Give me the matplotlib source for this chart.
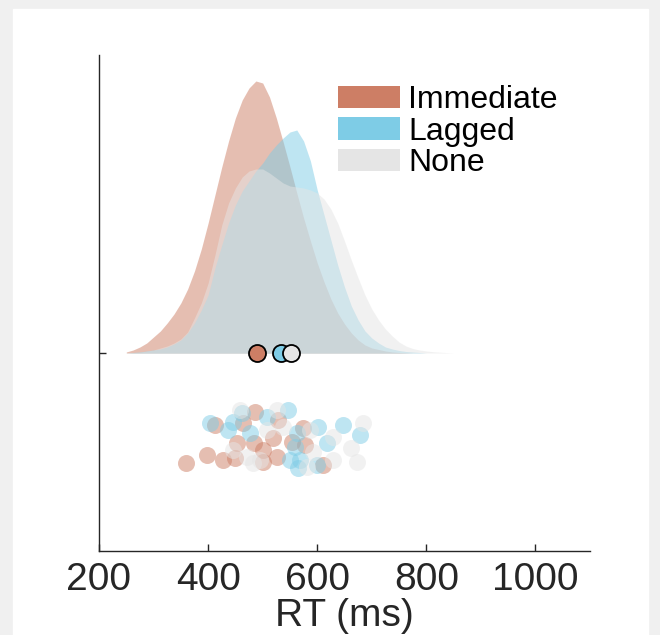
import matplotlib.pyplot as plt
from matplotlib.patches import Rectangle, Patch

# groups and colours
groups = ['Immediate', 'Lagged', 'None']
colors = ['#cd7e65', '#7ecce6', '#e5e5e5']

# density curves (arbitrary units) on a shared RT grid
rt_grid = [250, 262.5, 275, 287.5, 300, 312.5, 325, 337.5, 350, 362.5, 375, 387.5,
           400, 412.5, 425, 437.5, 450, 462.5, 475, 487.5, 500, 512.5, 525, 537.5,
           550, 562.5, 575, 587.5, 600, 612.5, 625, 637.5, 650, 662.5, 675, 687.5,
           700, 712.5, 725, 737.5, 750, 762.5, 775, 787.5, 800, 812.5, 825, 837.5,
           850, 862.5, 875]
dens_immediate = [1, 3, 6, 10, 16, 22, 30, 39, 50, 64, 82, 104,
                  130, 158, 186, 212, 235, 253, 265, 272, 270, 256, 235, 211,
                  186, 160, 135, 112, 90, 71, 54, 40, 29, 20, 13, 8,
                  5, 3.5, 2, 1, 0.5, 0.3, 0, 0, 0, 0, 0, 0,
                  0, 0, 0]
dens_lagged = [0, 0.5, 1, 2, 3, 4, 6, 9, 13, 20, 30, 43,
               58, 85, 108, 130, 148, 162, 172, 182, 190, 200, 208, 215,
               221, 223, 212, 192, 163, 138, 113, 88, 66, 47, 33, 22,
               15, 10, 6, 4, 2.5, 1.5, 1, 0.5, 0, 0, 0, 0,
               0, 0, 0]
dens_none = [0, 0.5, 1, 2, 3, 5, 7, 10, 14, 21, 35, 50,
             70, 98, 128, 150, 165, 176, 182, 184, 184, 180, 175, 170,
             167, 166, 165, 163, 160, 154, 144, 130, 112, 93, 75, 58,
             44, 33, 24, 17, 11, 7, 4.5, 3, 2, 1.3, 0.8, 0.4,
             0, 0, 0]

# group means
means = [490, 534, 552]

# raw data (RT) and jitter positions of the rain
rt_immediate = [360, 398, 413, 428, 450, 453, 486, 484, 501, 501, 527, 519, 528, 554,
                574, 578, 611, 464]
jit_immediate = [-110, -102, -72, -107, -105, -90, -59, -90, -97, -109,
                 -104, -85, -67, -89, -75, -92, -112, -70]
rt_lagged = [404, 437, 446, 462, 547, 508, 477, 563, 560, 550, 569, 602, 618, 648, 679,
             600, 565]
jit_lagged = [-70, -77, -69, -60, -57, -64, -80, -80, -94, -107,
              -107, -74, -90, -72, -82, -112, -115]
rt_none = [459, 527, 538, 472, 483, 446, 508, 587, 629, 684, 661, 629, 673, 593, 582, 495]
jit_none = [-57, -57, -74, -104, -110, -97, -77, -77, -84, -70, -95,
            -107, -109, -99, -114, -107]

xticks = [200, 400, 600, 800, 1000]

plt.rcParams['font.family'] = ['Liberation Sans', 'DejaVu Sans']

fig = plt.figure(figsize=(6.6, 6.35), dpi=100, facecolor='#f0f0f0')
fig.patches.append(Rectangle((13 / 660, 0), 635 / 660, 626 / 635,
                             transform=fig.transFigure, color='white', zorder=-1))
ax = fig.add_axes([0.15, 0.1323, 0.744, 0.7811])
ax.set_facecolor('none')

dens = [dens_immediate, dens_lagged, dens_none]
rts = [rt_immediate, rt_lagged, rt_none]
jits = [jit_immediate, jit_lagged, jit_none]

# clouds
for name, c, d in zip(groups, colors, dens):
    ax.fill_between(rt_grid, 0, d, color=c, alpha=0.5, lw=0)

# rain
for c, r, j in zip(colors, rts, jits):
    ax.scatter(r, j, s=150, color=c, alpha=0.5, linewidths=0, zorder=3)

# means
for c, m in zip(colors, means):
    ax.scatter([m], [0], s=150, facecolor=c, edgecolor='black', linewidths=1.3, zorder=4)

ax.set_xlim(200, 1100)
ax.set_ylim(-198, 298)
ax.set_xticks(xticks)
ax.set_yticks([0])
ax.set_yticklabels([])
ax.tick_params(direction='in', length=5, width=1, colors='#262626', labelsize=28,
               labelcolor='#262626', pad=8)
for s in ['top', 'right']:
    ax.spines[s].set_visible(False)
for s in ['left', 'bottom']:
    ax.spines[s].set_color('#262626')
    ax.spines[s].set_linewidth(1.0)
ax.set_xlabel('RT (ms)', fontsize=28, color='#262626', labelpad=0)

leg_handles = [Patch(facecolor=c, edgecolor='none') for c in colors]
ax.legend(leg_handles, groups, loc='upper left', bbox_to_anchor=(338 / 660, 1 - 85 / 635),
          bbox_transform=fig.transFigure, frameon=False, fontsize=23, borderpad=0,
          borderaxespad=0, handlelength=1.95, handleheight=0.7, handletextpad=0.25,
          labelspacing=0.05)

fig.savefig('out.png', dpi=100, facecolor=fig.get_facecolor())
